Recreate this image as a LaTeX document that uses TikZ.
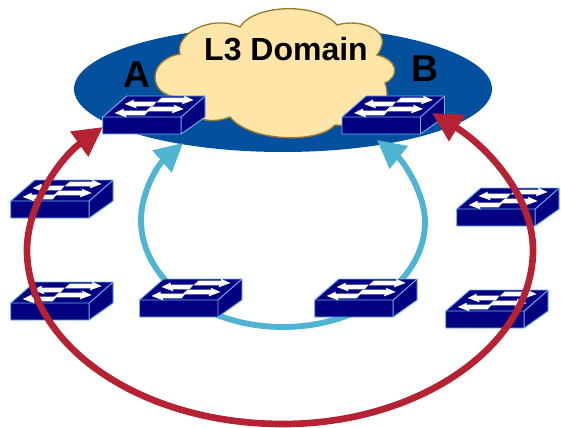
\documentclass[tikz,border=0pt]{standalone}
\usepackage{fontspec}
\setmainfont{Liberation Sans}
\usetikzlibrary{arrows.meta}

\definecolor{domainblue}{RGB}{3,80,159}
\definecolor{cloudfill}{RGB}{255,230,168}
\definecolor{clouddraw}{RGB}{155,123,46}
\definecolor{switchnavy}{RGB}{0,0,128}
\definecolor{switchedge}{RGB}{112,182,238}
\definecolor{linkred}{RGB}{181,34,51}
\definecolor{linkblue}{RGB}{79,180,210}

\tikzset{every picture/.style={line width=0.75pt}}
\tikzset{
  redlink/.style={draw=linkred,line width=5pt,{Triangle[length=22pt,width=22pt]}-{Triangle[length=22pt,width=22pt]}},
  bluelink/.style={draw=linkblue,line width=4.4pt,{Triangle[length=21pt,width=21pt]}-{Triangle[length=21pt,width=21pt]}},
  biglabel/.style={anchor=base,inner sep=0pt,font=\fontsize{28}{28}\selectfont\bfseries},
  domainlabel/.style={anchor=base,inner sep=0pt,font=\fontsize{24}{26}\selectfont\bfseries},
  netswitch/.pic={
    \begin{scope}[yscale=-1]
    \draw[switchedge,fill=switchnavy,line width=0.7pt,line join=round] (0,0) -- (24,-21) -- (102.5,-21) -- (102.5,0) -- (78.5,17) -- (0,17) -- cycle;
    \draw[switchedge,line width=0.7pt] (0,0) -- (78.5,0) -- (102.5,-21) (78.5,0) -- (78.5,17);
    \foreach \xa/\xb/\ya in {58/91/-17,47/81/-8} {
      \fill[white] ({\xa-4},{\ya+2.4}) -- ({\xa+1},{\ya-2.4}) -- ({\xb-9},{\ya-2.4}) -- ({\xb-10},{\ya-4.4}) -- (\xb,\ya) -- ({\xb-12},{\ya+4.4}) -- ({\xb-11},{\ya+2.4}) -- cycle;
    }
    \foreach \xa/\xb/\ya in {22/54/-13,12/46/-4} {
      \fill[white] (\xb,{\ya-2.4}) -- ({\xb-4},{\ya+2.4}) -- ({\xa+11},{\ya+2.4}) -- ({\xa+12},{\ya+4.4}) -- (\xa,\ya) -- ({\xa+9},{\ya-4.4}) -- ({\xa+9},{\ya-2.4}) -- cycle;
    }
    \end{scope}
  }
}

\begin{document}
\begin{tikzpicture}[x=0.75pt,y=0.75pt,yscale=-1,xscale=1]
\useasboundingbox (0,0) rectangle (561,428);

%Link ends
\coordinate (redA) at (103,127);
\coordinate (redB) at (432,113);
\coordinate (blueA) at (183,143);
\coordinate (blueB) at (377,140);

%Shape: Ellipse
\fill [domainblue] (283,89) ellipse (209 and 63);
%Shape: Cloud
\draw [clouddraw,fill=cloudfill,line width=1pt] (180,54) .. controls (174,34) and (212,14) .. (240,27) .. controls (254,4) and (318,2) .. (337,25) .. controls (360,18) and (396,30) .. (377,55) .. controls (398,60) and (400,76) .. (385,83) .. controls (394,108) and (372,128) .. (335,125) .. controls (318,144) and (250,142) .. (230,117) .. controls (212,124) and (190,122) .. (178,97) .. controls (148,96) and (146,60) .. (180,54) -- cycle;

%Ring through the access switches
\draw [bluelink] (blueA) .. controls (158,165) and (141,192) .. (141,220) .. controls (141,280) and (205,327) .. (283,327) .. controls (361,327) and (425,280) .. (425,222) .. controls (425,192) and (402,160) .. (blueB);

%Switches
\pic (swA) at (102.7,117) {netswitch};
\pic (swB) at (342,117) {netswitch};
\pic (swLeftTop) at (10.7,201) {netswitch};
\pic (swLeftBot) at (10.7,303) {netswitch};
\pic (swMidLeft) at (139.5,300) {netswitch};
\pic (swMidRight) at (314.7,300) {netswitch};
\pic (swRightTop) at (456.7,209) {netswitch};
\pic (swRightBot) at (445.7,311) {netswitch};

%Outer ring
\draw [redlink] (redA) .. controls (60,158) and (27,205) .. (27,250) .. controls (27,345) and (140,424) .. (283,424) .. controls (420,424) and (533,345) .. (533,250) .. controls (533,195) and (485,145) .. (redB);

% Text Node
\node (labelDomain) [domainlabel] at (286,61) {L3 Domain};
% Text Node
\node (labelA) [biglabel] at (137,88) {A};
% Text Node
\node (labelB) [biglabel] at (425,82) {B};

\end{tikzpicture}
\end{document}
